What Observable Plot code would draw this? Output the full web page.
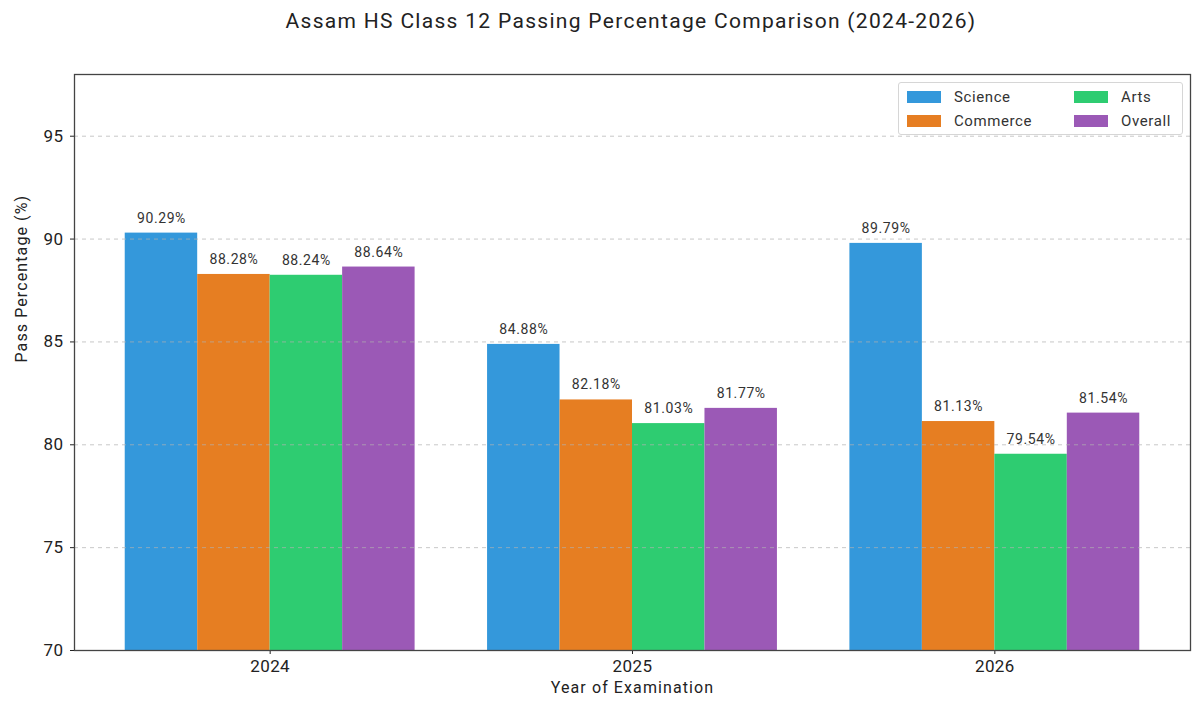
<!DOCTYPE html>
<html>
<head>
<meta charset="utf-8">
<script src="https://cdn.jsdelivr.net/npm/d3@7"></script>
<script src="https://cdn.jsdelivr.net/npm/@observablehq/plot@0.6"></script>
<style>
  html, body { margin: 0; padding: 0; background: #fff; }
  #chart { position: relative; width: 1200px; height: 716px; font-family: Roboto, "Open Sans", sans-serif; color: #222; }
  #title { position: absolute; left: 0; top: 9px; width: 1262px; text-align: center; font-size: 21px; letter-spacing: 1.3px; color: #222; }
  #legend { position: absolute; left: 898px; top: 82px; width: 285px; height: 53px; border: 1px solid #d6d6d6; border-radius: 3px; background: rgba(255,255,255,0.85); box-sizing: border-box; font-size: 15px; letter-spacing: 0.6px; color: #333; }
  .item { position: absolute; display: flex; align-items: center; }
  .sw { width: 34px; height: 12px; margin-right: 13px; }
  svg { position: absolute; left: 0; top: 0; }
</style>
</head>
<body>
<div id="chart">
  <div id="title"></div>
  <div id="legend"></div>
</div>
<script>
// Pass percentages by stream and year
const years = ["2024", "2025", "2026"];
const subjects = ["Science", "Commerce", "Arts", "Overall"];
const science = [90.29, 84.88, 89.79];
const commerce = [88.28, 82.18, 81.13];
const arts = [88.24, 81.03, 79.54];
const overall = [88.64, 81.77, 81.54];
const colors = ["#3498db", "#e67e22", "#2ecc71", "#9b59b6"];
const yTicks = [70, 75, 80, 85, 90, 95];
const titleText = "Assam HS Class 12 Passing Percentage Comparison (2024-2026)";

const series = [science, commerce, arts, overall];
const barWidth = 0.2;
const baseline = 70;

// One row per bar: group index plus the bar's slot inside the group
const rows = [];
years.forEach((year, i) => {
  subjects.forEach((subject, k) => {
    const x1 = i + (k - 2) * barWidth;
    rows.push({year, subject, value: series[k][i], x1, x2: x1 + barWidth, xc: x1 + barWidth / 2});
  });
});

const plot = Plot.plot({
  width: 1200,
  height: 716,
  marginTop: 74,
  marginBottom: 66,
  marginLeft: 74,
  marginRight: 10,
  style: {fontFamily: "Roboto, 'Open Sans', sans-serif", fontSize: "17px", letterSpacing: "0.4px", color: "#222", background: "transparent"},
  x: {
    domain: [-0.54, 2.54],
    ticks: [0, 1, 2],
    tickFormat: i => years[i],
    tickSize: 4,
    tickPadding: 5,
    label: null
  },
  y: {
    domain: [70, 98],
    ticks: yTicks,
    tickSize: 4,
    tickPadding: 7,
    label: null
  },
  color: {domain: subjects, range: colors},
  marks: [
    Plot.rectY(rows, {x1: "x1", x2: "x2", y1: baseline, y2: "value", fill: "subject"}),
    Plot.ruleY(yTicks.slice(1), {stroke: "#b0b0b0", strokeOpacity: 0.7, strokeDasharray: "4,4", strokeWidth: 1}),
    Plot.text(rows, {x: "xc", y: "value", text: d => d.value.toFixed(2) + "%", dy: -15, fontSize: 14, fill: "#333", style: "letter-spacing:0.5px"}),
    Plot.frame({stroke: "#444", strokeWidth: 1.3}),
    Plot.text(["Pass Percentage (%)"], {frameAnchor: "left", dx: -53, rotate: -90, fontSize: 16, fill: "#222"}),
    Plot.text(["Year of Examination"], {frameAnchor: "bottom", dy: 42, fontSize: 16, fill: "#222"})
  ]
});

// Wider tracking for the axis titles and bar labels
plot.querySelectorAll("text").forEach(t => {
  const s = t.textContent;
  if (s === "Pass Percentage (%)" || s === "Year of Examination") t.setAttribute("letter-spacing", "1.1");
  else if (s.endsWith("%")) t.setAttribute("letter-spacing", "0.6");
});

document.getElementById("chart").appendChild(plot);
document.getElementById("title").textContent = titleText;

// Legend: two columns, filled column by column
const legend = document.getElementById("legend");
const cols = [8, 175];
const rowsY = [5, 29];
subjects.forEach((s, k) => {
  const item = document.createElement("div");
  item.className = "item";
  item.style.left = cols[Math.floor(k / 2)] + "px";
  item.style.top = rowsY[k % 2] + "px";
  item.innerHTML = `<span class="sw" style="background:${colors[k]}"></span><span>${s}</span>`;
  legend.appendChild(item);
});
</script>
</body>
</html>
